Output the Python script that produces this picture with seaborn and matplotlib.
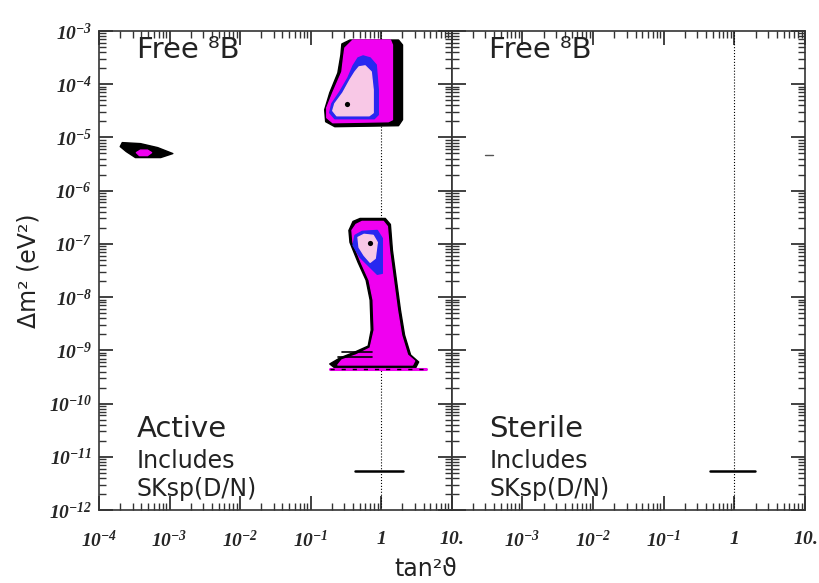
import matplotlib
matplotlib.use("Agg")
import numpy as np
import matplotlib.pyplot as plt
import seaborn as sns
from matplotlib.ticker import LogLocator, NullFormatter

# ---- data (log10 of tan^2 theta and log10 of dm^2 in eV^2) ----
# LMA island (active)
lma_black_lx = [-0.556, -0.441, 0.247, 0.304, 0.304, 0.247, -0.656, -0.786, -0.800, -0.728, -0.613, -0.570]
lma_black_ly = [-3.243, -3.169, -3.169, -3.262, -4.667, -4.779, -4.798, -4.704, -4.479, -4.161, -3.787, -3.449]
lma_mag_lx = [-0.513, -0.398, 0.132, 0.161, 0.161, 0.103, -0.685, -0.770, -0.770, -0.685, -0.556, -0.527]
lma_mag_ly = [-3.318, -3.169, -3.169, -3.262, -4.667, -4.704, -4.723, -4.629, -4.442, -4.161, -3.768, -3.449]
lma_blue_lx = [-0.327, -0.255, -0.155, -0.069, -0.040, -0.040, -0.097, -0.656, -0.728, -0.699, -0.585, -0.470, -0.398]
lma_blue_ly = [-3.506, -3.468, -3.506, -3.637, -4.105, -4.573, -4.648, -4.648, -4.536, -4.367, -4.142, -3.880, -3.655]
lma_pink_lx = [-0.312, -0.226, -0.140, -0.112, -0.112, -0.169, -0.628, -0.685, -0.656, -0.542, -0.441, -0.370]
lma_pink_ly = [-3.674, -3.655, -3.768, -4.105, -4.536, -4.592, -4.592, -4.498, -4.367, -4.161, -3.918, -3.768]

# SMA island (active)
sma_black_lx = [-3.670, -3.412, -3.168, -2.953, -3.125, -3.484, -3.613, -3.699]
sma_black_ly = [-5.097, -5.116, -5.191, -5.303, -5.378, -5.378, -5.266, -5.172]
sma_mag_lx = [-3.470, -3.412, -3.312, -3.254, -3.312, -3.427]
sma_mag_ly = [-5.285, -5.238, -5.238, -5.285, -5.341, -5.341]

# LOW island (active)
low_black_lx = [-0.398, -0.298, 0.060, 0.132, 0.161, 0.218, 0.275, 0.333, 0.419, 0.533, 0.490,
                -0.656, -0.728, -0.585, -0.370, -0.183, -0.140, -0.155, -0.212, -0.327, -0.441, -0.456]
low_black_ly = [-6.578, -6.522, -6.522, -6.634, -7.121, -7.683, -8.245, -8.713, -9.087, -9.219, -9.331,
                -9.331, -9.256, -9.144, -9.031, -8.919, -8.619, -8.057, -7.683, -7.346, -6.971, -6.747]
low_mag_lx = [-0.355, -0.269, 0.032, 0.089, 0.118, 0.175, 0.232, 0.290, 0.376, 0.476, 0.447,
              -0.613, -0.556, -0.355, -0.155, -0.097, -0.112, -0.169, -0.284, -0.398, -0.413]
low_mag_ly = [-6.634, -6.578, -6.578, -6.672, -7.121, -7.683, -8.245, -8.713, -9.087, -9.200, -9.275,
              -9.275, -9.181, -9.087, -8.956, -8.619, -8.057, -7.683, -7.346, -6.971, -6.747]
low_blue_lx = [-0.370, -0.269, -0.054, 0.017, 0.017, 0.017, -0.054, -0.183, -0.298, -0.398]
low_blue_ly = [-6.840, -6.765, -6.747, -6.896, -7.308, -7.552, -7.571, -7.402, -7.252, -7.027]
low_pink_lx = [-0.327, -0.241, -0.112, -0.054, -0.083, -0.155, -0.241, -0.312]
low_pink_ly = [-6.878, -6.821, -6.840, -6.971, -7.271, -7.346, -7.215, -7.065]

# best fit points (active)
best_lx = [-0.484, -0.155]
best_ly = [-4.367, -6.990]

# striped foot of LOW and dashed low edge
foot_lx = [[-0.553, -0.128], [-0.610, -0.130]]
foot_ly = [-9.03, -9.13]
edge_lx = [-0.723, 0.638]
edge_ly = -9.35

# vacuum (just-so) strips
js_active_lx = [-0.369, 0.312]
js_sterile_lx = [-0.347, 0.290]
js_ly = -11.27
sterile_dot_lx = [-3.53, -3.42]
sterile_dot_ly = -5.33

xticks = [1e-4, 1e-3, 1e-2, 1e-1, 1, 10]
xlabels_left = [r'$10^{-4}$', r'$10^{-3}$', r'$10^{-2}$', r'$10^{-1}$', r'$1$', r'$10.$']
xlabels_right = ['', r'$10^{-3}$', r'$10^{-2}$', r'$10^{-1}$', r'$1$', r'$10.$']
yexp = list(range(-3, -13, -1))
ylabels = [r'$10^{%d}$' % e for e in yexp]

BLACK = '#000000'
MAGENTA = '#f000f0'
BLUE = '#2828f0'
PINK = '#f8c8e6'

sns.set_style("ticks")
plt.rcParams['font.family'] = ['DejaVu Sans']
plt.rcParams['mathtext.fontset'] = 'custom'
plt.rcParams['mathtext.rm'] = 'Liberation Serif:italic:bold'
plt.rcParams['mathtext.it'] = 'Liberation Serif:italic:bold'
plt.rcParams['mathtext.bf'] = 'Liberation Serif:italic:bold'

fig = plt.figure(figsize=(8.2, 5.83), dpi=100)
bottom, height = 1 - 510 / 583, 479 / 583
ax1 = fig.add_axes([99 / 820, bottom, (451.6 - 99) / 820, height])
ax2 = fig.add_axes([451.6 / 820, bottom, (805 - 451.6) / 820, height])


def patch(ax, lx, ly, color):
    ax.fill(10 ** np.array(lx), 10 ** np.array(ly), color=color, lw=1.0,
            joinstyle='round', zorder=2)


for lx, ly, c in [(lma_black_lx, lma_black_ly, BLACK), (lma_mag_lx, lma_mag_ly, MAGENTA),
                  (lma_blue_lx, lma_blue_ly, BLUE), (lma_pink_lx, lma_pink_ly, PINK),
                  (sma_black_lx, sma_black_ly, BLACK), (sma_mag_lx, sma_mag_ly, MAGENTA),
                  (low_black_lx, low_black_ly, BLACK), (low_mag_lx, low_mag_ly, MAGENTA),
                  (low_blue_lx, low_blue_ly, BLUE), (low_pink_lx, low_pink_ly, PINK)]:
    patch(ax1, lx, ly, c)

for lx, ly in zip(foot_lx, foot_ly):
    ax1.plot(10 ** np.array(lx), [10 ** ly] * 2, color=BLACK, lw=1.2, zorder=3)
ax1.plot(10 ** np.array(edge_lx), [10 ** edge_ly] * 2, color=MAGENTA, lw=2.2, zorder=3)
ax1.plot(10 ** np.array(edge_lx), [10 ** edge_ly] * 2, color=BLACK, lw=1.0, ls=(0, (3, 5)), zorder=3)

sns.scatterplot(x=10 ** np.array(best_lx), y=10 ** np.array(best_ly), ax=ax1,
                color=BLACK, s=14, linewidth=0, zorder=4)

ax1.plot(10 ** np.array(js_active_lx), [10 ** js_ly] * 2, color=BLACK, lw=1.8, zorder=3)
ax2.plot(10 ** np.array(js_sterile_lx), [10 ** js_ly] * 2, color=BLACK, lw=1.8, zorder=3)
ax2.plot(10 ** np.array(sterile_dot_lx), [10 ** sterile_dot_ly] * 2, color='#555555', lw=1.0, zorder=3)

for ax, xl in [(ax1, xlabels_left), (ax2, xlabels_right)]:
    ax.set_xscale('log')
    ax.set_yscale('log')
    ax.set_xlim(1e-4, 10)
    ax.set_ylim(1e-12, 1e-3)
    ax.axvline(1, color=BLACK, ls=':', lw=0.8, zorder=1)
    ax.set_xticks(xticks)
    ax.set_xticklabels(xl)
    ax.set_yticks([10.0 ** e for e in yexp])
    ax.xaxis.set_minor_locator(LogLocator(base=10, subs=np.arange(2, 10), numticks=100))
    ax.yaxis.set_minor_locator(LogLocator(base=10, subs=np.arange(2, 10), numticks=100))
    ax.xaxis.set_minor_formatter(NullFormatter())
    ax.yaxis.set_minor_formatter(NullFormatter())
    ax.tick_params(which='both', direction='in', top=True, right=True, color='#333333')
    ax.tick_params(which='major', length=10, width=1.3, labelsize=14, pad=14)
    ax.tick_params(which='minor', length=5, width=1.0)
    ax.tick_params(axis='y', which='major', pad=5)
    for s in ax.spines.values():
        s.set_linewidth(1.2)
        s.set_color('#333333')
    ax.text(0.107, 0.944, 'Free \u2078B', transform=ax.transAxes, fontsize=21, color='#222222')
    ax.text(0.107, 0.0877, 'Includes', transform=ax.transAxes, fontsize=17, color='#222222')
    ax.text(0.107, 0.029, 'SKsp(D/N)', transform=ax.transAxes, fontsize=17, color='#222222')

ax1.set_yticklabels(ylabels)
ax2.set_yticklabels([])
ax1.text(0.107, 0.152, 'Active', transform=ax1.transAxes, fontsize=21, color='#222222')
ax2.text(0.107, 0.152, 'Sterile', transform=ax2.transAxes, fontsize=21, color='#222222')

ax1.set_ylabel('\u0394m\u00b2 (eV\u00b2)', fontsize=17, color='#222222', labelpad=6)
fig.text(426 / 820, 1 - 569 / 583, 'tan\u00b2\u03d1', fontsize=17, color='#222222',
         ha='center', va='center')

fig.savefig('out.png', dpi=100)
